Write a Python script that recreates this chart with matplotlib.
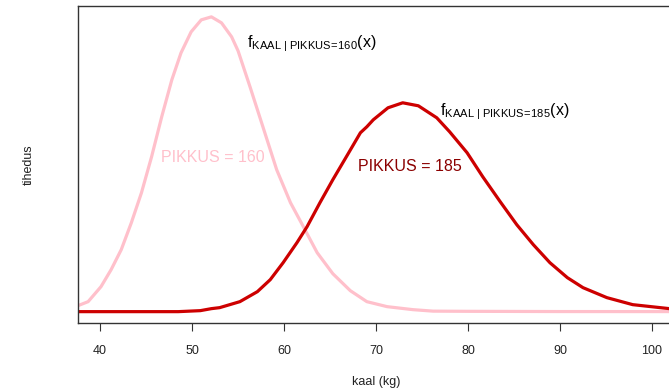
import matplotlib
matplotlib.use("Agg")
import matplotlib.pyplot as plt

# SETUP #########################################

plt.rcParams.update({
    "font.family": "Liberation Sans",
    "font.size": 9,
    "mathtext.fontset": "custom",
    "mathtext.rm": "Liberation Sans",
    "mathtext.it": "Liberation Sans:italic",
    "mathtext.bf": "Liberation Sans:bold",
})

# DATA ##########################################

# weight (kg) and density, height 160
kaal_160 = [37.6, 38.7, 40.1, 41.2, 42.3, 43.4, 44.5, 45.6, 46.7, 47.8, 48.8,
            49.9, 51.0, 52.1, 53.2, 54.3, 55.0, 56.3, 57.7, 59.2, 60.7, 62.1,
            63.6, 65.3, 67.2, 69.0, 71.2, 74.0, 76.2, 80.0, 90.0, 102.5]
tihedus_160 = [0.00132, 0.0022, 0.0055, 0.00924, 0.01364, 0.01958, 0.02618,
               0.0341, 0.0429, 0.05104, 0.05698, 0.0616, 0.06424, 0.0649,
               0.06358, 0.0605, 0.05742, 0.0495, 0.0407, 0.03124, 0.02398,
               0.0187, 0.01298, 0.00836, 0.00462, 0.0022, 0.0011, 0.00044,
               0.00011, 0.00007, 0.00002, 0.00001]

# height 185
kaal_185 = [37.6, 48.5, 50.9, 52.1, 53.0, 55.2, 57.1, 58.5, 59.9, 61.4, 62.5,
            63.9, 65.3, 66.9, 68.3, 69.0, 69.7, 71.3, 72.9, 74.6, 76.6, 78.0,
            79.9, 81.6, 83.5, 85.3, 87.1, 88.9, 90.8, 92.5, 95.1, 97.9, 101.9,
            102.5]
tihedus_185 = [0.0, 0.0, 0.00022, 0.00066, 0.00088, 0.0022, 0.0044, 0.00704,
               0.01078, 0.01518, 0.0187, 0.02398, 0.02904, 0.03454, 0.03938,
               0.0407, 0.04224, 0.04488, 0.04598, 0.04532, 0.04268, 0.0396,
               0.03498, 0.0297, 0.0242, 0.01914, 0.01474, 0.01078, 0.00748,
               0.00528, 0.00308, 0.00154, 0.00066, 0.00059]

x_ticks = [40, 50, 60, 70, 80, 90, 100]

# FIGURE ########################################

fig = plt.figure(figsize=(6.69, 3.89), dpi=100)
# right edge of the box sits just outside the picture, as in the original
ax = fig.add_axes([78/669, 66/389, 597/669, 317.5/389])

ax.plot(kaal_160, tihedus_160, color='#FFC0CB', linewidth=2.3,
        solid_joinstyle='round')
ax.plot(kaal_185, tihedus_185, color='#CD0000', linewidth=2.3,
        solid_joinstyle='round')

ax.set_xlim(37.6, 102.5)
ax.set_ylim(-0.0025, 0.0674)

# TICKS AND LABELS ###########

ax.set_xticks(x_ticks)
ax.set_yticks([])
ax.tick_params(axis='x', direction='out', length=5.4, width=0.8,
               color='#333333', labelcolor='#222222', labelsize=9, pad=10.5)

for side in ['left', 'top', 'bottom']:
    ax.spines[side].set_color('#333333')
    ax.spines[side].set_linewidth(1.0)

ax.set_xlabel('kaal (kg)', fontsize=9, color='#222222', labelpad=13.5)
ax.set_ylabel('tihedus', fontsize=9, color='#222222', labelpad=31)

# ANNOTATIONS ################

ax.text(52.3, 0.0339, 'PIKKUS = 160', color='#FFC0CB', fontsize=11.5,
        ha='center', va='center')
ax.text(73.7, 0.0319, 'PIKKUS = 185', color='#8B0000', fontsize=11.5,
        ha='center', va='center')

ax.text(56.0, 0.0581,
        r'$\mathrm{f}_{\mathrm{KAAL\ |\ PIKKUS}\!=\!\mathrm{160}}\mathrm{(x)}$',
        fontsize=11.5, color='black', ha='left', va='baseline')
ax.text(77.0, 0.0433,
        r'$\mathrm{f}_{\mathrm{KAAL\ |\ PIKKUS}\!=\!\mathrm{185}}\mathrm{(x)}$',
        fontsize=11.5, color='black', ha='left', va='baseline')

# EXPORT ########################################

fig.savefig('out.png', dpi=100)
